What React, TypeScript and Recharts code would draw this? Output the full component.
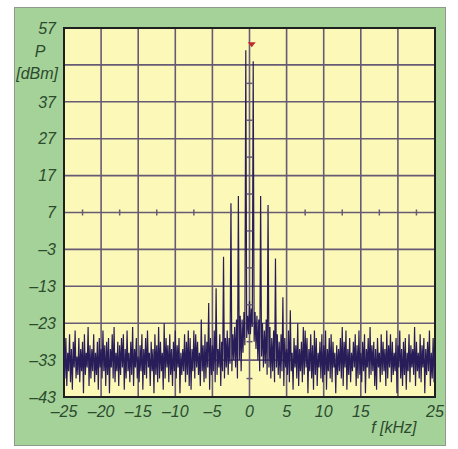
import React from 'react';
import { ComposedChart, Line, Scatter, XAxis, YAxis, CartesianGrid, ReferenceArea } from 'recharts';

// frequency step of the trace, kHz
const STEP = 0.125;
const START = -25;

// noise floor of the analyser trace, 8 samples per kHz, from -25 kHz to +25 kHz
const noise: number[] = [
  -29, -38, -27, -40, -31, -36, -26, -39,
  -30, -41, -28, -35, -25, -38, -32, -37,
  -27, -39, -30, -36, -28, -42, -26, -37,
  -31, -35, -24, -40, -29, -38, -30, -36,
  -26, -39, -31, -37, -28, -41, -27, -35,
  -30, -38, -25, -36, -29, -40, -28, -37,
  -27, -42, -30, -35, -26, -38, -24, -39,
  -31, -36, -28, -40, -29, -37, -27, -35,
  -26, -41, -30, -38, -25, -36, -31, -39,
  -28, -37, -24, -40, -30, -35, -27, -38,
  -32, -39, -29, -36, -26, -41, -30, -37,
  -27, -38, -25, -35, -31, -40, -28, -36,
  -30, -42, -26, -37, -29, -39, -24, -38,
  -28, -36, -31, -41, -23, -38, -27, -35,
  -29, -39, -26, -37, -30, -40, -28, -36,
  -25, -38, -29, -35, -27, -42, -31, -37,
  -30, -36, -26, -39, -28, -37, -25, -40,
  -27, -41, -30, -36, -29, -38, -26, -35,
  -28, -37, -31, -40, -24, -36, -29, -39,
  -26, -38, -28, -35, -30, -41, -27, -37,
  -29, -36, -25, -39, -27, -37, -30, -35,
  -26, -40, -28, -36, -24, -38, -27, -35,
  -25, -37, -27, -34, -23, -36, -26, -33,
  -24, -35, -22, -38, -25, -33, -21, -36,
  -22, -31, -20, -29, -19, -27, -21, -26,
  -17, -26, -19, -24, -18, -28, -20, -30,
  -21, -33, -22, -36, -24, -32, -23, -35,
  -25, -34, -22, -37, -26, -35, -24, -38,
  -27, -36, -25, -39, -28, -35, -26, -37,
  -28, -38, -26, -36, -29, -40, -27, -35,
  -30, -37, -25, -39, -28, -36, -31, -41,
  -27, -35, -29, -38, -26, -40, -30, -36,
  -28, -39, -24, -37, -31, -35, -27, -42,
  -30, -36, -26, -38, -29, -41, -25, -37,
  -27, -40, -31, -35, -28, -38, -26, -39,
  -29, -37, -25, -41, -30, -36, -27, -38,
  -26, -39, -28, -35, -31, -42, -29, -37,
  -30, -36, -27, -38, -24, -40, -28, -35,
  -25, -41, -30, -37, -27, -39, -31, -36,
  -28, -35, -26, -40, -29, -38, -25, -37,
  -31, -39, -28, -36, -26, -42, -30, -35,
  -27, -38, -24, -37, -29, -36, -28, -40,
  -30, -41, -27, -35, -31, -39, -26, -37,
  -28, -36, -30, -40, -25, -38, -29, -35,
  -26, -39, -28, -37, -31, -36, -27, -42,
  -29, -35, -25, -38, -30, -40, -28, -37,
  -27, -41, -31, -36, -26, -39, -29, -35,
  -30, -37, -24, -40, -28, -36, -31, -38,
  -26, -39, -29, -35, -27, -42, -30, -37,
  -28, -36, -25, -40, -31, -38, -27, -39,
  -30,
];

// two-tone signal and intermodulation products
const toneFreqs = [-7.5, -6.5, -5.5, -4.5, -3.5, -2.5, -1.5, -0.5, 0.5, 1.5, 2.5, 3.5, 4.5, 5.5, 6.5, 7.5];
const toneLevels = [-25, -22, -17.5, -13.5, -5, 9.5, 11.5, 51, 48, 11.5, 9, -5.5, -16, -19.5, -23, -25];

const xTicks = [-25, -20, -15, -10, -5, 0, 5, 10, 15, 20, 25];
const yTicks = [57, 47, 37, 27, 17, 7, -3, -13, -23, -33, -43];

// small ticks on the 7 dBm line and on the 0 kHz line
const minorF = [-22.5, -17.5, -12.5, -7.5, -2.5, 2.5, 7.5, 12.5, 17.5, 22.5];
const minorP = [42, 32, 22, 12, 2, -8, -18, -28, -38];

const marker = [{ f: 0.3, p: 52.6 }];

const data = noise.map((v, i) => {
  const f = START + i * STEP;
  const k = toneFreqs.findIndex((t) => Math.abs(t - f) < 1e-6);
  return { f, p: k >= 0 ? Math.max(v, toneLevels[k]) : v };
});

const hMinor = minorF.map((f) => ({ f, p: 7 }));
const vMinor = minorP.map((p) => ({ f: 0, p }));

const TEXT = '#2c4a2e';
const GRID = '#675a74';
const FONT = '"Liberation Sans", Arial, sans-serif';

const fmt = (v: number) => (v < 0 ? '\u2013' + Math.abs(v) : String(v));

function XTick(props: any) {
  const { x, y, payload } = props;
  const v = payload.value as number;
  if (v === 20) {
    return (
      <text x={x - 4} y={y + 28} textAnchor="middle" fill={TEXT} fontSize={16} fontStyle="italic" fontFamily={FONT}>
        f [kHz]
      </text>
    );
  }
  return (
    <text x={x} y={y + 12} textAnchor="middle" fill={TEXT} fontSize={16} fontStyle="italic" fontFamily={FONT}>
      {fmt(v)}
    </text>
  );
}

function YTick(props: any) {
  const { x, y, payload } = props;
  const v = payload.value as number;
  if (v === 47) {
    return (
      <g>
        <text x={x - 16} y={y - 8} textAnchor="middle" fill={TEXT} fontSize={16} fontStyle="italic" fontFamily={FONT}>
          P
        </text>
        <text x={x + 2} y={y + 14} textAnchor="end" fill={TEXT} fontSize={16} fontStyle="italic" fontFamily={FONT}>
          [dBm]
        </text>
      </g>
    );
  }
  return (
    <text x={x} y={y} dy="0.36em" textAnchor="end" fill={TEXT} fontSize={16} fontStyle="italic" fontFamily={FONT}>
      {fmt(v)}
    </text>
  );
}

const VTickShape = (props: any) => (
  <line x1={props.cx} x2={props.cx} y1={props.cy - 3} y2={props.cy + 3} stroke={GRID} strokeWidth={1.5} />
);
const HTickShape = (props: any) => (
  <line x1={props.cx - 3} x2={props.cx + 3} y1={props.cy} y2={props.cy} stroke={GRID} strokeWidth={1.5} />
);
const MarkerShape = (props: any) => {
  const { cx, cy } = props;
  return <polygon points={`${cx - 4},${cy - 2} ${cx + 4},${cy - 2} ${cx},${cy + 3}`} fill="#c0282a" />;
};

export default function App() {
  return (
    <div style={{ position: 'relative', width: 458, height: 449 }}>
      <style>{'body{margin:0}'}</style>
      <div
        style={{
          position: 'absolute',
          left: 14,
          top: 7,
          width: 430,
          height: 437,
          background: '#a5d298',
          border: '1px solid #8f9a8c',
        }}
      />
      <div style={{ position: 'absolute', left: 0, top: 0 }}>
        <ComposedChart width={458} height={449} data={data} margin={{ top: 28, right: 23, bottom: 0, left: 0 }}>
          <CartesianGrid fill="#fcf9b8" fillOpacity={1} stroke={GRID} strokeWidth={1.6} />
          <XAxis
            dataKey="f"
            type="number"
            domain={[-25, 25]}
            ticks={xTicks}
            interval={0}
            height={52}
            axisLine={false}
            tickLine={false}
            tick={XTick}
            allowDataOverflow
          />
          <YAxis
            type="number"
            domain={[-43, 57]}
            ticks={yTicks}
            interval={0}
            width={64}
            axisLine={false}
            tickLine={false}
            tick={YTick}
            allowDataOverflow
          />
          <Scatter data={hMinor} dataKey="p" shape={VTickShape} isAnimationActive={false} />
          <Scatter data={vMinor} dataKey="p" shape={HTickShape} isAnimationActive={false} />
          <Line dataKey="p" stroke="#281d58" strokeWidth={1.2} dot={false} isAnimationActive={false} />
          <Scatter data={marker} dataKey="p" shape={MarkerShape} isAnimationActive={false} />
          <ReferenceArea x1={-25} x2={25} y1={-43} y2={57} fill="none" stroke="#1f1f1f" strokeWidth={2} ifOverflow="visible" />
        </ComposedChart>
      </div>
    </div>
  );
}
